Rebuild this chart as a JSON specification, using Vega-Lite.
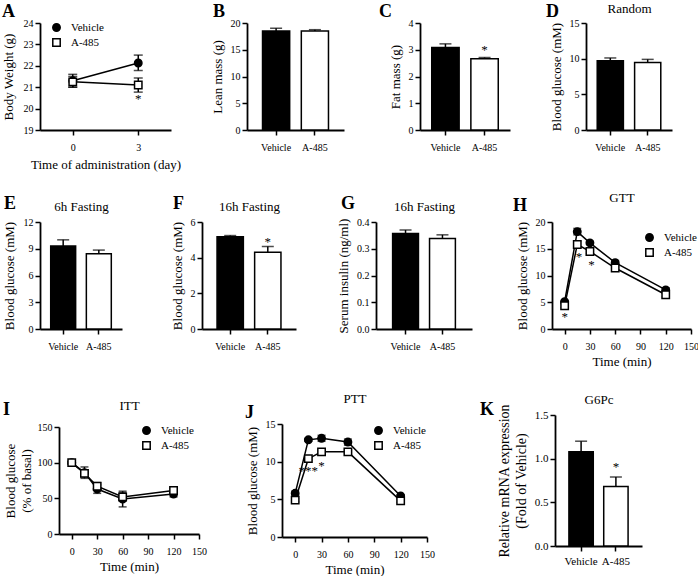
{
  "$schema": "https://vega.github.io/schema/vega-lite/v6.json",
  "padding": {"left": 2, "top": 2, "right": 0, "bottom": 0},
  "spacing": 20,
  "resolve": {"scale": {"fill": "independent", "shape": "independent", "stroke": "independent"}},
  "vconcat": [
    {
      "hconcat": [
        {
          "width": 131, "height": 107,
          "title": {"text": "A", "dx": -38, "dy": -1},
          "data": {"values": [
            {"day": 0, "group": "Vehicle", "mean": 21.3, "lo": 21.0, "hi": 21.6},
            {"day": 3, "group": "Vehicle", "mean": 22.13, "lo": 21.78, "hi": 22.5},
            {"day": 0, "group": "A-485", "mean": 21.25, "lo": 21.0, "hi": 21.5},
            {"day": 3, "group": "A-485", "mean": 21.1, "lo": 20.77, "hi": 21.43}
          ]},
          "layer": [
            {"mark": {"type": "line", "color": "black", "strokeWidth": 1.5},
             "encoding": {
               "x": {"field": "day", "type": "quantitative", "scale": {"domain": [-1.5, 4.5], "nice": false}, "axis": {"values": [0, 3], "tickCount": 20, "format": "d", "title": "Time of administration (day)", "titlePadding": 6}},
               "y": {"field": "mean", "type": "quantitative", "scale": {"domain": [19, 24], "nice": false}, "axis": {"values": [19, 20, 21, 22, 23, 24], "tickCount": 20, "format": "d", "title": "Body Weight (g)", "titlePadding": 8}},
               "detail": {"field": "group"}}},
            {"mark": {"type": "rule", "color": "black", "strokeWidth": 1.5},
             "encoding": {"x": {"field": "day", "type": "quantitative"}, "y": {"field": "lo", "type": "quantitative"}, "y2": {"field": "hi"}}},
            {"mark": {"type": "tick", "orient": "horizontal", "color": "black", "thickness": 1.5, "size": 9},
             "encoding": {"x": {"field": "day", "type": "quantitative"}, "y": {"field": "lo", "type": "quantitative"}}},
            {"mark": {"type": "tick", "orient": "horizontal", "color": "black", "thickness": 1.5, "size": 9},
             "encoding": {"x": {"field": "day", "type": "quantitative"}, "y": {"field": "hi", "type": "quantitative"}}},
            {"mark": {"type": "point", "filled": true, "strokeWidth": 1.5, "size": 55, "opacity": 1},
             "encoding": {
               "x": {"field": "day", "type": "quantitative"},
               "y": {"field": "mean", "type": "quantitative"},
               "shape": {"field": "group", "type": "nominal", "scale": {"domain": ["Vehicle", "A-485"], "range": ["circle", "square"]}, "legend": {"title": null, "legendX": 11, "legendY": -1, "rowPadding": 0}},
               "fill": {"field": "group", "type": "nominal", "scale": {"domain": ["Vehicle", "A-485"], "range": ["black", "white"]}, "legend": {"title": null, "legendX": 11, "legendY": -1, "rowPadding": 0}},
               "stroke": {"field": "group", "type": "nominal", "scale": {"domain": ["Vehicle", "A-485"], "range": ["black", "black"]}, "legend": {"title": null, "legendX": 11, "legendY": -1, "rowPadding": 0}}}},
            {"data": {"values": [{"day": 3, "y": 20.45, "label": "*"}]},
             "mark": {"type": "text", "fontSize": 13, "baseline": "middle", "color": "black"},
             "encoding": {"x": {"field": "day", "type": "quantitative"}, "y": {"field": "y", "type": "quantitative"}, "text": {"field": "label"}}}
          ]
        },
        {
          "width": 97, "height": 107,
          "title": {"text": "B", "dx": -34, "dy": -1},
          "data": {"values": [{"group": "Vehicle", "mean": 18.5, "upper": 19.0}, {"group": "A-485", "mean": 18.5, "upper": 18.75}]},
          "layer": [
            {"mark": {"type": "bar", "stroke": "black", "strokeWidth": 1.5},
             "encoding": {
               "x": {"field": "group", "type": "nominal", "sort": ["Vehicle", "A-485"], "scale": {"paddingInner": 0.3, "paddingOuter": 0.4}, "axis": {"title": null}},
               "y": {"field": "mean", "type": "quantitative", "stack": null, "scale": {"domain": [0, 20], "nice": false}, "axis": {"values": [0, 5, 10, 15, 20], "tickCount": 20, "format": "d", "title": "Lean mass (g)"}},
               "fill": {"field": "group", "type": "nominal", "scale": {"domain": ["Vehicle", "A-485"], "range": ["black", "white"]}, "legend": null}}},
            {"mark": {"type": "rule", "color": "black", "strokeWidth": 1.5},
             "encoding": {"x": {"field": "group", "type": "nominal", "sort": ["Vehicle", "A-485"]}, "y": {"field": "mean", "type": "quantitative"}, "y2": {"field": "upper"}}},
            {"mark": {"type": "tick", "color": "black", "thickness": 1.5, "size": 12},
             "encoding": {"x": {"field": "group", "type": "nominal", "sort": ["Vehicle", "A-485"]}, "y": {"field": "upper", "type": "quantitative"}}}
          ]
        },
        {
          "width": 90, "height": 107,
          "title": {"text": "C", "dx": -41, "dy": -1},
          "data": {"values": [{"group": "Vehicle", "mean": 3.08, "upper": 3.22}, {"group": "A-485", "mean": 2.66, "upper": 2.71}]},
          "layer": [
            {"mark": {"type": "bar", "stroke": "black", "strokeWidth": 1.5},
             "encoding": {
               "x": {"field": "group", "type": "nominal", "sort": ["Vehicle", "A-485"], "scale": {"paddingInner": 0.3, "paddingOuter": 0.3}, "axis": {"title": null}},
               "y": {"field": "mean", "type": "quantitative", "stack": null, "scale": {"domain": [0, 4], "nice": false}, "axis": {"values": [0, 1, 2, 3, 4], "tickCount": 20, "format": "d", "title": "Fat mass (g)"}},
               "fill": {"field": "group", "type": "nominal", "scale": {"domain": ["Vehicle", "A-485"], "range": ["black", "white"]}, "legend": null}}},
            {"mark": {"type": "rule", "color": "black", "strokeWidth": 1.5},
             "encoding": {"x": {"field": "group", "type": "nominal", "sort": ["Vehicle", "A-485"]}, "y": {"field": "mean", "type": "quantitative"}, "y2": {"field": "upper"}}},
            {"mark": {"type": "tick", "color": "black", "thickness": 1.5, "size": 12},
             "encoding": {"x": {"field": "group", "type": "nominal", "sort": ["Vehicle", "A-485"]}, "y": {"field": "upper", "type": "quantitative"}}},
            {"data": {"values": [{"group": "A-485", "y": 2.98, "label": "*"}]},
             "mark": {"type": "text", "fontSize": 13, "baseline": "middle", "color": "black"},
             "encoding": {"x": {"field": "group", "type": "nominal", "sort": ["Vehicle", "A-485"]}, "y": {"field": "y", "type": "quantitative"}, "text": {"field": "label"}}}
          ]
        },
        {
          "width": 86, "height": 107,
          "title": {"text": "D", "dx": -40, "dy": 14},
          "data": {"values": [{"group": "Vehicle", "mean": 9.7, "upper": 10.1}, {"group": "A-485", "mean": 9.45, "upper": 9.9}]},
          "layer": [
            {"mark": {"type": "bar", "stroke": "black", "strokeWidth": 1.5},
             "encoding": {
               "x": {"field": "group", "type": "nominal", "sort": ["Vehicle", "A-485"], "scale": {"paddingInner": 0.3, "paddingOuter": 0.3}, "axis": {"title": null}},
               "y": {"field": "mean", "type": "quantitative", "stack": null, "scale": {"domain": [0, 15], "nice": false}, "axis": {"values": [0, 5, 10, 15], "tickCount": 20, "format": "d", "title": "Blood glucose (mM)"}},
               "fill": {"field": "group", "type": "nominal", "scale": {"domain": ["Vehicle", "A-485"], "range": ["black", "white"]}, "legend": null}}},
            {"mark": {"type": "rule", "color": "black", "strokeWidth": 1.5},
             "encoding": {"x": {"field": "group", "type": "nominal", "sort": ["Vehicle", "A-485"], "axis": {"orient": "top", "title": "Random", "labels": false, "ticks": false, "domain": false, "titlePadding": 7.5, "minExtent": 0, "maxExtent": 0}}, "y": {"field": "mean", "type": "quantitative"}, "y2": {"field": "upper"}}},
            {"mark": {"type": "tick", "color": "black", "thickness": 1.5, "size": 12},
             "encoding": {"x": {"field": "group", "type": "nominal", "sort": ["Vehicle", "A-485"], "axis": null}, "y": {"field": "upper", "type": "quantitative"}}}
          ],
          "resolve": {"axis": {"x": "independent"}}
        }
      ],
      "spacing": 76, "bounds": "flush",
      "resolve": {"scale": {"fill": "independent", "shape": "independent", "stroke": "independent"}}
    },
    {
      "vconcat": [
        {
          "hconcat": [
            {
              "width": 82, "height": 107,
              "title": {"text": "E", "dx": -36, "dy": 8.5},
              "data": {"values": [{"group": "Vehicle", "mean": 9.3, "upper": 10.0}, {"group": "A-485", "mean": 8.45, "upper": 8.85}]},
              "layer": [
                {"mark": {"type": "bar", "stroke": "black", "strokeWidth": 1.5},
                 "encoding": {
                   "x": {"field": "group", "type": "nominal", "sort": ["Vehicle", "A-485"], "scale": {"paddingInner": 0.3, "paddingOuter": 0.3}, "axis": {"title": null}},
                   "y": {"field": "mean", "type": "quantitative", "stack": null, "scale": {"domain": [0, 12], "nice": false}, "axis": {"values": [0, 3, 6, 9, 12], "tickCount": 20, "format": "d", "title": "Blood glucose (mM)", "titlePadding": 7}},
                   "fill": {"field": "group", "type": "nominal", "scale": {"domain": ["Vehicle", "A-485"], "range": ["black", "white"]}, "legend": null}}},
                {"mark": {"type": "rule", "color": "black", "strokeWidth": 1.5},
                 "encoding": {"x": {"field": "group", "type": "nominal", "sort": ["Vehicle", "A-485"], "axis": {"orient": "top", "title": "6h Fasting", "labels": false, "ticks": false, "domain": false, "titlePadding": 8.5, "minExtent": 0, "maxExtent": 0}}, "y": {"field": "mean", "type": "quantitative"}, "y2": {"field": "upper"}}},
                {"mark": {"type": "tick", "color": "black", "thickness": 1.5, "size": 12},
                 "encoding": {"x": {"field": "group", "type": "nominal", "sort": ["Vehicle", "A-485"], "axis": null}, "y": {"field": "upper", "type": "quantitative"}}}
              ],
              "resolve": {"axis": {"x": "independent"}}
            },
            {
              "width": 94, "height": 107,
              "title": {"text": "F", "dx": -29, "dy": 8.5},
              "data": {"values": [{"group": "Vehicle", "mean": 5.17, "upper": 5.24}, {"group": "A-485", "mean": 4.3, "upper": 4.62}]},
              "layer": [
                {"mark": {"type": "bar", "stroke": "black", "strokeWidth": 1.5},
                 "encoding": {
                   "x": {"field": "group", "type": "nominal", "sort": ["Vehicle", "A-485"], "scale": {"paddingInner": 0.3, "paddingOuter": 0.4}, "axis": {"title": null}},
                   "y": {"field": "mean", "type": "quantitative", "stack": null, "scale": {"domain": [0, 6], "nice": false}, "axis": {"values": [0, 2, 4, 6], "tickCount": 20, "format": "d", "title": "Blood glucose (mM)"}},
                   "fill": {"field": "group", "type": "nominal", "scale": {"domain": ["Vehicle", "A-485"], "range": ["black", "white"]}, "legend": null}}},
                {"mark": {"type": "rule", "color": "black", "strokeWidth": 1.5},
                 "encoding": {"x": {"field": "group", "type": "nominal", "sort": ["Vehicle", "A-485"], "axis": {"orient": "top", "title": "16h Fasting", "labels": false, "ticks": false, "domain": false, "titlePadding": 8.5, "minExtent": 0, "maxExtent": 0}}, "y": {"field": "mean", "type": "quantitative"}, "y2": {"field": "upper"}}},
                {"mark": {"type": "tick", "color": "black", "thickness": 1.5, "size": 12},
                 "encoding": {"x": {"field": "group", "type": "nominal", "sort": ["Vehicle", "A-485"], "axis": null}, "y": {"field": "upper", "type": "quantitative"}}},
                {"data": {"values": [{"group": "A-485", "y": 4.9, "label": "*"}]},
                 "mark": {"type": "text", "fontSize": 13, "baseline": "middle", "color": "black"},
                 "encoding": {"x": {"field": "group", "type": "nominal", "sort": ["Vehicle", "A-485"], "axis": null}, "y": {"field": "y", "type": "quantitative"}, "text": {"field": "label"}}}
              ],
              "resolve": {"axis": {"x": "independent"}}
            },
            {
              "width": 96, "height": 107,
              "title": {"text": "G", "dx": -35, "dy": 8.5},
              "data": {"values": [{"group": "Vehicle", "mean": 0.357, "upper": 0.37}, {"group": "A-485", "mean": 0.338, "upper": 0.352}]},
              "layer": [
                {"mark": {"type": "bar", "stroke": "black", "strokeWidth": 1.5},
                 "encoding": {
                   "x": {"field": "group", "type": "nominal", "sort": ["Vehicle", "A-485"], "scale": {"paddingInner": 0.3, "paddingOuter": 0.45}, "axis": {"title": null}},
                   "y": {"field": "mean", "type": "quantitative", "stack": null, "scale": {"domain": [0, 0.4], "nice": false}, "axis": {"values": [0, 0.1, 0.2, 0.3, 0.4], "tickCount": 20, "format": ".1f", "title": "Serum insulin (ng/ml)"}},
                   "fill": {"field": "group", "type": "nominal", "scale": {"domain": ["Vehicle", "A-485"], "range": ["black", "white"]}, "legend": null}}},
                {"mark": {"type": "rule", "color": "black", "strokeWidth": 1.5},
                 "encoding": {"x": {"field": "group", "type": "nominal", "sort": ["Vehicle", "A-485"], "axis": {"orient": "top", "title": "16h Fasting", "labels": false, "ticks": false, "domain": false, "titlePadding": 8.5, "minExtent": 0, "maxExtent": 0}}, "y": {"field": "mean", "type": "quantitative"}, "y2": {"field": "upper"}}},
                {"mark": {"type": "tick", "color": "black", "thickness": 1.5, "size": 12},
                 "encoding": {"x": {"field": "group", "type": "nominal", "sort": ["Vehicle", "A-485"], "axis": null}, "y": {"field": "upper", "type": "quantitative"}}}
              ],
              "resolve": {"axis": {"x": "independent"}}
            },
            {
              "width": 139, "height": 107,
              "title": {"text": "H", "dx": -39, "dy": 19.5},
              "data": {"values": [
                {"time": 0, "group": "Vehicle", "mean": 5.1, "lo": 4.9, "hi": 5.3},
                {"time": 15, "group": "Vehicle", "mean": 18.2, "lo": 17.6, "hi": 18.8},
                {"time": 30, "group": "Vehicle", "mean": 16.1, "lo": 15.8, "hi": 16.4},
                {"time": 60, "group": "Vehicle", "mean": 12.4, "lo": 12.0, "hi": 12.8},
                {"time": 120, "group": "Vehicle", "mean": 7.3, "lo": 6.9, "hi": 7.7},
                {"time": 0, "group": "A-485", "mean": 4.35, "lo": 4.0, "hi": 4.7},
                {"time": 15, "group": "A-485", "mean": 15.8, "lo": 15.2, "hi": 16.4},
                {"time": 30, "group": "A-485", "mean": 14.5, "lo": 14.1, "hi": 14.9},
                {"time": 60, "group": "A-485", "mean": 11.4, "lo": 11.0, "hi": 11.8},
                {"time": 120, "group": "A-485", "mean": 6.4, "lo": 6.0, "hi": 6.8}
              ]},
              "layer": [
                {"mark": {"type": "line", "color": "black", "strokeWidth": 1.5},
                 "encoding": {
                   "x": {"field": "time", "type": "quantitative", "scale": {"domain": [-15, 150], "nice": false}, "axis": {"values": [0, 30, 60, 90, 120, 150], "tickCount": 20, "format": "d", "title": "Time (min)", "titlePadding": 4}},
                   "y": {"field": "mean", "type": "quantitative", "scale": {"domain": [0, 20], "nice": false}, "axis": {"values": [0, 5, 10, 15, 20], "tickCount": 20, "format": "d", "title": "Blood glucose (mM)"}},
                   "detail": {"field": "group"}}},
                {"mark": {"type": "rule", "color": "black", "strokeWidth": 1.5},
                 "encoding": {"x": {"field": "time", "type": "quantitative", "axis": {"orient": "top", "title": "GTT", "labels": false, "ticks": false, "domain": false, "titlePadding": 17.5, "minExtent": 0, "maxExtent": 0}}, "y": {"field": "lo", "type": "quantitative"}, "y2": {"field": "hi"}}},
                {"mark": {"type": "tick", "orient": "horizontal", "color": "black", "thickness": 1.5, "size": 8},
                 "encoding": {"x": {"field": "time", "type": "quantitative", "axis": null}, "y": {"field": "lo", "type": "quantitative"}}},
                {"mark": {"type": "tick", "orient": "horizontal", "color": "black", "thickness": 1.5, "size": 8},
                 "encoding": {"x": {"field": "time", "type": "quantitative", "axis": null}, "y": {"field": "hi", "type": "quantitative"}}},
                {"mark": {"type": "point", "filled": true, "strokeWidth": 1.5, "size": 55, "opacity": 1},
                 "encoding": {
                   "x": {"field": "time", "type": "quantitative", "axis": null},
                   "y": {"field": "mean", "type": "quantitative"},
                   "shape": {"field": "group", "type": "nominal", "scale": {"domain": ["Vehicle", "A-485"], "range": ["circle", "square"]}, "legend": {"title": null, "legendX": 92, "legendY": 10, "rowPadding": 0}},
                   "fill": {"field": "group", "type": "nominal", "scale": {"domain": ["Vehicle", "A-485"], "range": ["black", "white"]}, "legend": {"title": null, "legendX": 92, "legendY": 10, "rowPadding": 0}},
                   "stroke": {"field": "group", "type": "nominal", "scale": {"domain": ["Vehicle", "A-485"], "range": ["black", "black"]}, "legend": {"title": null, "legendX": 92, "legendY": 10, "rowPadding": 0}}}},
                {"data": {"values": [{"time": 0, "y": 2.3, "label": "*"}, {"time": 17, "y": 13.5, "label": "*"}, {"time": 32, "y": 12.0, "label": "*"}]},
                 "mark": {"type": "text", "fontSize": 13, "baseline": "middle", "color": "black"},
                 "encoding": {"x": {"field": "time", "type": "quantitative", "axis": null}, "y": {"field": "y", "type": "quantitative"}, "text": {"field": "label"}}}
              ],
              "resolve": {"axis": {"x": "independent"}}
            }
          ],
          "spacing": 80, "bounds": "flush",
          "resolve": {"scale": {"fill": "independent", "shape": "independent", "stroke": "independent"}}
        },
        {
          "hconcat": [
            {"width": 10, "height": 1, "data": {"values": []}, "mark": "point", "encoding": {}},
            {
              "width": 140, "height": 107,
              "title": {"text": "I", "dx": -56, "dy": 15.5},
              "data": {"values": [
                {"time": 0, "group": "Vehicle", "mean": 100, "lo": 98, "hi": 102},
                {"time": 15, "group": "Vehicle", "mean": 86, "lo": 78, "hi": 94},
                {"time": 30, "group": "Vehicle", "mean": 63, "lo": 57, "hi": 69},
                {"time": 60, "group": "Vehicle", "mean": 49, "lo": 38, "hi": 60},
                {"time": 120, "group": "Vehicle", "mean": 56, "lo": 52, "hi": 60},
                {"time": 0, "group": "A-485", "mean": 100, "lo": 98, "hi": 102},
                {"time": 15, "group": "A-485", "mean": 85, "lo": 80, "hi": 90},
                {"time": 30, "group": "A-485", "mean": 67, "lo": 62, "hi": 72},
                {"time": 60, "group": "A-485", "mean": 52, "lo": 46, "hi": 58},
                {"time": 120, "group": "A-485", "mean": 61, "lo": 58, "hi": 64}
              ]},
              "layer": [
                {"mark": {"type": "line", "color": "black", "strokeWidth": 1.5},
                 "encoding": {
                   "x": {"field": "time", "type": "quantitative", "scale": {"domain": [-15, 150], "nice": false}, "axis": {"values": [0, 30, 60, 90, 120, 150], "tickCount": 20, "format": "d", "title": "Time (min)", "titlePadding": 4}},
                   "y": {"field": "mean", "type": "quantitative", "scale": {"domain": [0, 150], "nice": false}, "axis": {"values": [0, 50, 100, 150], "tickCount": 20, "format": "d", "title": ["Blood glucose", "(% of basal)"], "titleLineHeight": 16, "titlePadding": 4}},
                   "detail": {"field": "group"}}},
                {"mark": {"type": "rule", "color": "black", "strokeWidth": 1.5},
                 "encoding": {"x": {"field": "time", "type": "quantitative", "axis": {"orient": "top", "title": "ITT", "labels": false, "ticks": false, "domain": false, "titlePadding": 14.5, "minExtent": 0, "maxExtent": 0}}, "y": {"field": "lo", "type": "quantitative"}, "y2": {"field": "hi"}}},
                {"mark": {"type": "tick", "orient": "horizontal", "color": "black", "thickness": 1.5, "size": 8},
                 "encoding": {"x": {"field": "time", "type": "quantitative", "axis": null}, "y": {"field": "lo", "type": "quantitative"}}},
                {"mark": {"type": "tick", "orient": "horizontal", "color": "black", "thickness": 1.5, "size": 8},
                 "encoding": {"x": {"field": "time", "type": "quantitative", "axis": null}, "y": {"field": "hi", "type": "quantitative"}}},
                {"mark": {"type": "point", "filled": true, "strokeWidth": 1.5, "size": 55, "opacity": 1},
                 "encoding": {
                   "x": {"field": "time", "type": "quantitative", "axis": null},
                   "y": {"field": "mean", "type": "quantitative"},
                   "shape": {"field": "group", "type": "nominal", "scale": {"domain": ["Vehicle", "A-485"], "range": ["circle", "square"]}, "legend": {"title": null, "legendX": 82, "legendY": -2, "rowPadding": 0}},
                   "fill": {"field": "group", "type": "nominal", "scale": {"domain": ["Vehicle", "A-485"], "range": ["black", "white"]}, "legend": {"title": null, "legendX": 82, "legendY": -2, "rowPadding": 0}},
                   "stroke": {"field": "group", "type": "nominal", "scale": {"domain": ["Vehicle", "A-485"], "range": ["black", "black"]}, "legend": {"title": null, "legendX": 82, "legendY": -2, "rowPadding": 0}}}}
              ],
              "resolve": {"axis": {"x": "independent"}}
            },
            {"width": 65, "height": 1, "data": {"values": []}, "mark": "point", "encoding": {}},
            {
              "width": 145, "height": 113,
              "title": {"text": "J", "dx": -37, "dy": 25.5},
              "data": {"values": [
                {"time": 0, "group": "Vehicle", "mean": 5.8, "lo": 5.5, "hi": 6.1},
                {"time": 15, "group": "Vehicle", "mean": 12.9, "lo": 12.7, "hi": 13.1},
                {"time": 30, "group": "Vehicle", "mean": 13.1, "lo": 12.7, "hi": 13.5},
                {"time": 60, "group": "Vehicle", "mean": 12.6, "lo": 12.2, "hi": 13.0},
                {"time": 120, "group": "Vehicle", "mean": 5.45, "lo": 5.3, "hi": 5.6},
                {"time": 0, "group": "A-485", "mean": 4.9, "lo": 4.7, "hi": 5.1},
                {"time": 15, "group": "A-485", "mean": 10.4, "lo": 10.2, "hi": 10.6},
                {"time": 30, "group": "A-485", "mean": 11.3, "lo": 11.0, "hi": 11.6},
                {"time": 60, "group": "A-485", "mean": 11.3, "lo": 11.1, "hi": 11.5},
                {"time": 120, "group": "A-485", "mean": 4.8, "lo": 4.6, "hi": 5.0}
              ]},
              "layer": [
                {"mark": {"type": "line", "color": "black", "strokeWidth": 1.5},
                 "encoding": {
                   "x": {"field": "time", "type": "quantitative", "scale": {"domain": [-15, 150], "nice": false}, "axis": {"values": [0, 30, 60, 90, 120, 150], "tickCount": 20, "format": "d", "title": "Time (min)", "titlePadding": 4}},
                   "y": {"field": "mean", "type": "quantitative", "scale": {"domain": [0, 15], "nice": false}, "axis": {"values": [0, 5, 10, 15], "tickCount": 20, "format": "d", "title": "Blood glucose (mM)"}},
                   "detail": {"field": "group"}}},
                {"mark": {"type": "rule", "color": "black", "strokeWidth": 1.5},
                 "encoding": {"x": {"field": "time", "type": "quantitative", "axis": {"orient": "top", "title": "PTT", "labels": false, "ticks": false, "domain": false, "titlePadding": 18.5, "minExtent": 0, "maxExtent": 0}}, "y": {"field": "lo", "type": "quantitative"}, "y2": {"field": "hi"}}},
                {"mark": {"type": "tick", "orient": "horizontal", "color": "black", "thickness": 1.5, "size": 8},
                 "encoding": {"x": {"field": "time", "type": "quantitative", "axis": null}, "y": {"field": "lo", "type": "quantitative"}}},
                {"mark": {"type": "tick", "orient": "horizontal", "color": "black", "thickness": 1.5, "size": 8},
                 "encoding": {"x": {"field": "time", "type": "quantitative", "axis": null}, "y": {"field": "hi", "type": "quantitative"}}},
                {"mark": {"type": "point", "filled": true, "strokeWidth": 1.5, "size": 55, "opacity": 1},
                 "encoding": {
                   "x": {"field": "time", "type": "quantitative", "axis": null},
                   "y": {"field": "mean", "type": "quantitative"},
                   "shape": {"field": "group", "type": "nominal", "scale": {"domain": ["Vehicle", "A-485"], "range": ["circle", "square"]}, "legend": {"title": null, "legendX": 91, "legendY": 1, "rowPadding": 0}},
                   "fill": {"field": "group", "type": "nominal", "scale": {"domain": ["Vehicle", "A-485"], "range": ["black", "white"]}, "legend": {"title": null, "legendX": 91, "legendY": 1, "rowPadding": 0}},
                   "stroke": {"field": "group", "type": "nominal", "scale": {"domain": ["Vehicle", "A-485"], "range": ["black", "black"]}, "legend": {"title": null, "legendX": 91, "legendY": 1, "rowPadding": 0}}}},
                {"data": {"values": [{"time": 15, "y": 8.8, "label": "***"}, {"time": 30, "y": 9.4, "label": "*"}]},
                 "mark": {"type": "text", "fontSize": 13, "baseline": "middle", "color": "black"},
                 "encoding": {"x": {"field": "time", "type": "quantitative", "axis": null}, "y": {"field": "y", "type": "quantitative"}, "text": {"field": "label"}}}
              ],
              "resolve": {"axis": {"x": "independent"}}
            },
            {"width": 110, "height": 1, "data": {"values": []}, "mark": "point", "encoding": {}},
            {
              "width": 87, "height": 131,
              "title": {"text": "K", "dx": -75, "dy": 21.5},
              "data": {"values": [{"group": "Vehicle", "mean": 1.08, "upper": 1.2}, {"group": "A-485", "mean": 0.68, "upper": 0.79}]},
              "layer": [
                {"mark": {"type": "bar", "stroke": "black", "strokeWidth": 1.5},
                 "encoding": {
                   "x": {"field": "group", "type": "nominal", "sort": ["Vehicle", "A-485"], "scale": {"paddingInner": 0.3, "paddingOuter": 0.4}, "axis": {"title": null, "labelFontSize": 11, "labelPadding": 4}},
                   "y": {"field": "mean", "type": "quantitative", "stack": null, "scale": {"domain": [0, 1.5], "nice": false}, "axis": {"values": [0, 0.5, 1, 1.5], "tickCount": 20, "format": ".1f", "labelFontSize": 11, "title": ["Relative mRNA expression", "(Fold of Vehicle)"], "titleFontSize": 14, "titleLineHeight": 17}},
                   "fill": {"field": "group", "type": "nominal", "scale": {"domain": ["Vehicle", "A-485"], "range": ["black", "white"]}, "legend": null}}},
                {"mark": {"type": "rule", "color": "black", "strokeWidth": 1.5},
                 "encoding": {"x": {"field": "group", "type": "nominal", "sort": ["Vehicle", "A-485"], "axis": {"orient": "top", "title": "G6Pc", "labels": false, "ticks": false, "domain": false, "titlePadding": 8.5, "minExtent": 0, "maxExtent": 0}}, "y": {"field": "mean", "type": "quantitative"}, "y2": {"field": "upper"}}},
                {"mark": {"type": "tick", "color": "black", "thickness": 1.5, "size": 12},
                 "encoding": {"x": {"field": "group", "type": "nominal", "sort": ["Vehicle", "A-485"], "axis": null}, "y": {"field": "upper", "type": "quantitative"}}},
                {"data": {"values": [{"group": "A-485", "y": 0.9, "label": "*"}]},
                 "mark": {"type": "text", "fontSize": 13, "baseline": "middle", "color": "black"},
                 "encoding": {"x": {"field": "group", "type": "nominal", "sort": ["Vehicle", "A-485"], "axis": null}, "y": {"field": "y", "type": "quantitative"}, "text": {"field": "label"}}}
              ],
              "resolve": {"axis": {"x": "independent"}}
            }
          ],
          "spacing": 9, "bounds": "flush", "center": true,
          "resolve": {"scale": {"fill": "independent", "shape": "independent", "stroke": "independent"}}
        }
      ],
      "spacing": 24,
      "resolve": {"scale": {"fill": "independent", "shape": "independent", "stroke": "independent"}}
    }
  ],
  "config": {
    "font": "Liberation Serif",
    "view": {"stroke": null},
    "axis": {"domainColor": "black", "domainWidth": 1.8, "tickColor": "black", "tickWidth": 1.5, "tickSize": 5, "labelColor": "black", "labelFont": "Liberation Serif", "labelFontSize": 10, "titleFont": "Liberation Serif", "titleFontSize": 13, "titleFontWeight": "normal", "titleColor": "black", "grid": false, "labelPadding": 2, "labelOverlap": false, "labelFlush": false},
    "axisX": {"labelAngle": 0, "labelPadding": 7, "titlePadding": 8},
    "axisY": {"titlePadding": 6},
    "title": {"font": "Liberation Serif", "fontSize": 18, "fontWeight": "bold", "anchor": "start", "frame": "group", "color": "black", "offset": -4},
    "legend": {"labelFont": "Liberation Serif", "labelFontSize": 11, "labelColor": "black", "symbolStrokeWidth": 1.5, "symbolSize": 55, "rowPadding": 0, "labelOffset": 9, "orient": "none", "padding": 0},
    "text": {"font": "Liberation Serif", "color": "black"}
  }
}
